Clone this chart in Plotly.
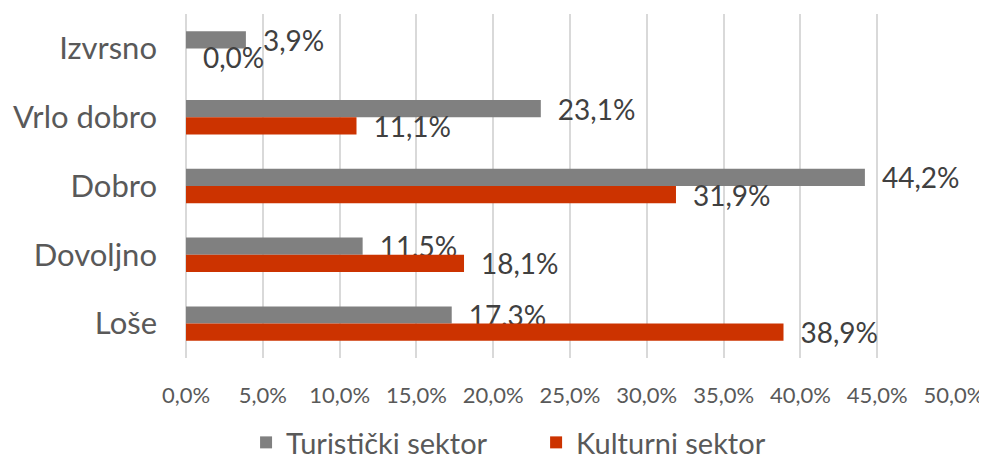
import plotly.graph_objects as go

categories = ["Izvrsno", "Vrlo dobro", "Dobro", "Dovoljno", "Loše"]
turisticki = [3.9, 23.1, 44.2, 11.5, 17.3]
kulturni = [0.0, 11.1, 31.9, 18.1, 38.9]
tick_values = [0, 5, 10, 15, 20, 25, 30, 35, 40, 45, 50]
series_names = ["Turistički sektor", "Kulturni sektor"]


def fmt(v):
    return f"{v:.1f}%".replace(".", ",")


fig = go.Figure()
for i, (name, vals, color) in enumerate([
    (series_names[0], turisticki, "#808080"),
    (series_names[1], kulturni, "#CC3300"),
]):
    fig.add_trace(go.Bar(
        y=categories, x=vals, name=name + ("\u00a0" * 6 if i == 0 else ""),
        orientation="h",
        marker=dict(color=color, line=dict(width=0)),
        text=["\u2009\u2009\u2009\u2009" + fmt(v) for v in vals],
        textposition="outside", constraintext="none", cliponaxis=False,
        textfont=dict(size=28, color="#404040", family="Lato"),
    ))

fig.update_layout(
    width=979, height=455,
    margin=dict(l=178, r=33, t=6, b=105),
    barmode="group", bargap=0.5, bargroupgap=0,
    plot_bgcolor="white", paper_bgcolor="white",
    font=dict(family="Lato", color="#595959"),
    separators=",.",
    legend=dict(orientation="h", x=0.42, xanchor="center",
                yref="container", y=0.045, yanchor="middle",
                font=dict(size=29, color="#595959"), itemwidth=30,
                traceorder="normal"),
    xaxis=dict(range=[0, 50], tickvals=tick_values,
               ticktext=[fmt(v) for v in tick_values],
               showgrid=True, gridcolor="#D9D9D9", gridwidth=1.5,
               zeroline=True, zerolinecolor="#D9D9D9", zerolinewidth=1.5,
               tickfont=dict(size=22, color="#595959"), ticks="", ticklen=0,
               ticklabelstandoff=22, automargin=False),
    yaxis=dict(autorange="reversed", showgrid=False, ticks="",
               tickfont=dict(size=31, color="#595959"), ticklabelstandoff=28,
               automargin=False),
)

fig.write_html("out.html")
